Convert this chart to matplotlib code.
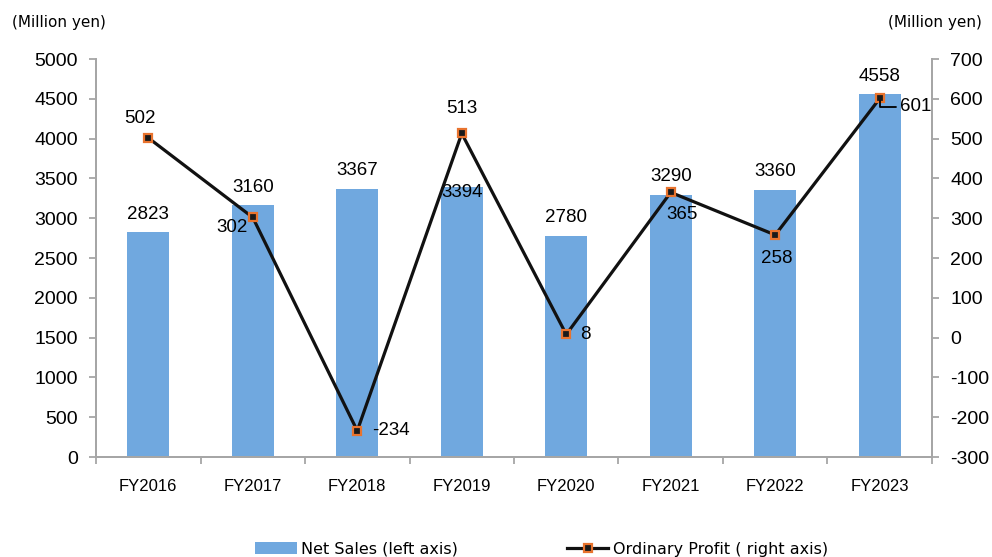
import numpy as np
import matplotlib.pyplot as plt
from matplotlib.lines import Line2D
from matplotlib.patches import Patch

plt.rcParams["axes.unicode_minus"] = False

years = ["FY2016", "FY2017", "FY2018", "FY2019", "FY2020", "FY2021", "FY2022", "FY2023"]
net_sales = [2823, 3160, 3367, 3394, 2780, 3290, 3360, 4558]
ordinary_profit = [502, 302, -234, 513, 8, 365, 258, 601]

# label offsets in points (hand placed like the original)
sales_offsets = [(0, 7), (0, 7), (0, 7), (0, -4), (0, 7), (0, 7), (0, 7), (0, 7)]
profit_offsets = [(-6, 14), (-15, -7), (24, 0), (0, 18), (14, 0), (8, -16), (1, -17), (26, -6)]

BAR_COLOR = "#70A8DF"
GRID_GRAY = "#A6A6A6"
NUM_FONT = "Liberation Sans"

fig = plt.figure(figsize=(9.92, 5.57), dpi=100)
ax = fig.add_axes([0.0968, 0.1795, 0.8427, 0.7145])
ax2 = ax.twinx()

x = np.arange(len(years))
ax.bar(x, net_sales, width=0.4, color=BAR_COLOR, zorder=2)
ax.set_xlim(-0.5, len(years) - 0.5)
ax.set_ylim(0, 5000)
ax.set_yticks(np.arange(0, 5001, 500))
ax2.set_ylim(-300, 700)
ax2.set_yticks(np.arange(-300, 701, 100))

for xi, v, off in zip(x, net_sales, sales_offsets):
    ax.annotate(str(v), (xi, v), xytext=off, textcoords="offset points",
                ha="center", va="bottom" if off[1] > 0 else "center",
                fontsize=13.5, family=NUM_FONT)

ax2.plot(x, ordinary_profit, color="#111111", lw=2.3, marker="s", ms=5.5,
         mfc="#1a1a1a", mec="#E8732E", mew=1.6, zorder=3)

for xi, v, off in zip(x, ordinary_profit, profit_offsets):
    ax2.annotate(str(v), (xi, v), xytext=off, textcoords="offset points",
                 ha="center", va="center", fontsize=13.5, family=NUM_FONT)
# small leader line for the last label
ax2.annotate("", (x[-1], ordinary_profit[-1]), xytext=(14, -6),
             textcoords="offset points",
             arrowprops=dict(arrowstyle="-", color="black", lw=1.3,
                             connectionstyle="angle,angleA=0,angleB=90,rad=0"))

for a in (ax, ax2):
    a.spines["top"].set_visible(False)
    for s in ("left", "right", "bottom"):
        a.spines[s].set_color(GRID_GRAY)
        a.spines[s].set_linewidth(1.3)
    a.tick_params(axis="y", colors=GRID_GRAY, length=5, width=1.3, labelcolor="black",
                  labelsize=14, pad=8)
    for lab in a.get_yticklabels():
        lab.set_family(NUM_FONT)

ax.set_xticks(x)
ax.set_xticklabels(years, fontsize=12, family=NUM_FONT)
ax.tick_params(axis="x", length=0, pad=16)
ax.set_xticks(np.arange(-0.5, len(years), 1), minor=True)
ax.tick_params(axis="x", which="minor", length=5, width=1.3, color=GRID_GRAY)

fig.text(0.012, 0.96, "(Million yen)", fontsize=11, ha="left", va="center")
fig.text(0.99, 0.96, "(Million yen)", fontsize=11, ha="right", va="center")

handles = [
    Patch(facecolor=BAR_COLOR, edgecolor="none"),
    Line2D([0], [0], color="#111111", lw=2.3, marker="s", ms=5.5,
           mfc="#1a1a1a", mec="#E8732E", mew=1.6),
]
fig.legend(handles, ["Net Sales (left axis)", "Ordinary Profit ( right axis)"],
           loc="lower center", bbox_to_anchor=(0.546, -0.025), ncol=2,
           frameon=False, fontsize=11.5, handlelength=2.6, handleheight=0.8,
           columnspacing=6.8, handletextpad=0.3)

fig.savefig("out.png", dpi=100)
